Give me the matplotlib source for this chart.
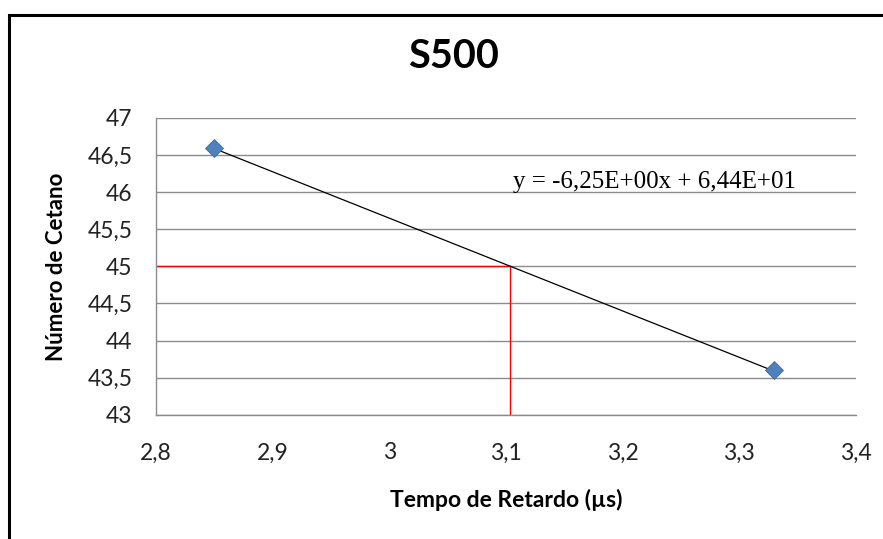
import numpy as np
import matplotlib.pyplot as plt
from matplotlib.patches import Rectangle
from matplotlib.ticker import FuncFormatter

# measured points: delay time (us) vs cetane number
tempo = [2.85, 3.33]
cetano = [46.6, 43.6]

# fitted line y = a*x + b
a = -6.25
b = 64.4
alvo = 45.0
x_alvo = (alvo - b) / a

x_ticks = [2.8, 2.9, 3.0, 3.1, 3.2, 3.3, 3.4]
y_ticks = [43, 43.5, 44, 44.5, 45, 45.5, 46, 46.5, 47]

fig = plt.figure(figsize=(8.83, 5.39), dpi=100)
ax = fig.add_axes([0.1767, 0.2306, 0.7923, 0.5505])

# outer chart frame (runs off the right and bottom edges)
fig.patches.append(Rectangle((9 / 883, -0.05), 1.0, 1 - 15 / 539 + 0.05,
                             transform=fig.transFigure, fill=False,
                             edgecolor='black', linewidth=2.2))

for yt in y_ticks:
    ax.axhline(yt, color='#8c8c8c', linewidth=1.0, zorder=1)

# guide lines to the target cetane number
ax.plot([x_ticks[0], x_alvo], [alvo, alvo], color='#ff0000', linewidth=1.0, zorder=2)
ax.plot([x_alvo, x_alvo], [y_ticks[0], alvo], color='#ff0000', linewidth=1.0, zorder=2)

xs = np.array([min(tempo), max(tempo)])
ax.plot(xs, a * xs + b, color='black', linewidth=0.9, zorder=3)
ax.plot(tempo, cetano, linestyle='none', marker='D', markersize=9.5,
        markerfacecolor='#4f81bd', markeredgecolor='#3a6aa5', markeredgewidth=0.6, zorder=4)

ax.set_xlim(2.8, 3.4)
ax.set_ylim(43, 47)
ax.set_xticks(x_ticks)
ax.set_yticks(y_ticks)

fmt = FuncFormatter(lambda v, p: ('%g' % round(v, 2)).replace('.', ','))
ax.xaxis.set_major_formatter(fmt)
ax.yaxis.set_major_formatter(fmt)
ax.tick_params(length=0, labelsize=16.5, colors='#222222')
ax.tick_params(axis='y', pad=17)
ax.tick_params(axis='x', pad=20)
for lab in ax.get_xticklabels() + ax.get_yticklabels():
    lab.set_family('Lato')

for side in ['top', 'right']:
    ax.spines[side].set_visible(False)
for side in ['left', 'bottom']:
    ax.spines[side].set_color('#8c8c8c')
    ax.spines[side].set_linewidth(1.0)

fig.text(453 / 883, 1 - 57 / 539, 'S500', fontsize=28.5, fontweight='bold',
         family='Lato', ha='center', va='center')
ax.set_xlabel('Tempo de Retardo (µs)', fontsize=16.5, fontweight='bold', family='Lato')
ax.set_ylabel('Número de Cetano', fontsize=16, fontweight='bold', family='Lato')
ax.xaxis.set_label_coords(0.5, -(500 - 415) / 297, transform=ax.transAxes)
ax.xaxis.label.set_va('center')
ax.yaxis.set_label_coords(-(156 - 56) / 700, 0.5, transform=ax.transAxes)
ax.yaxis.label.set_va('center')

ax.text(3.106, 46.14, 'y = -6,25E+00x + 6,44E+01', family='Liberation Serif',
        fontsize=18, va='center', ha='left')

fig.savefig('out.png', dpi=100)
